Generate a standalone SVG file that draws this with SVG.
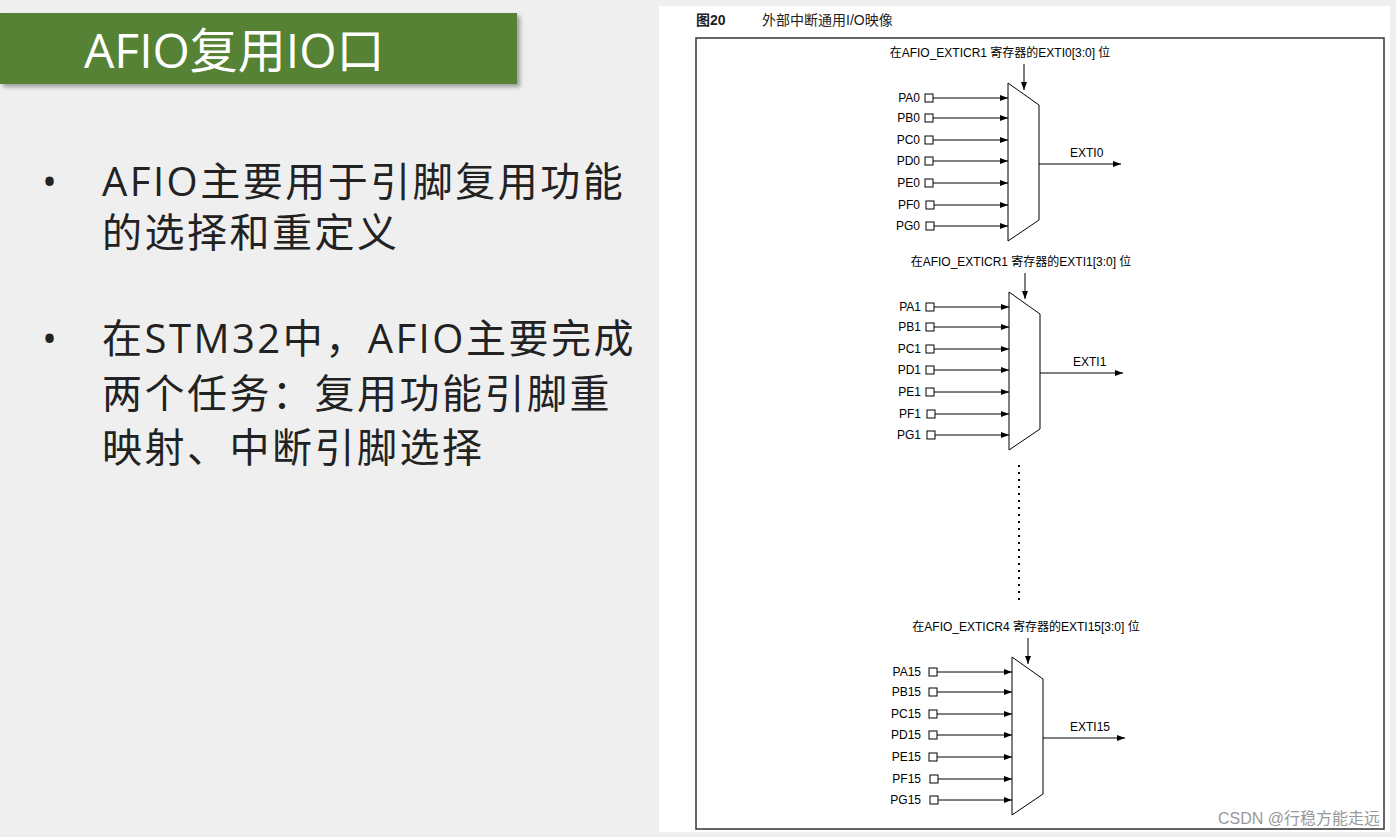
<svg xmlns="http://www.w3.org/2000/svg" width="1396" height="837" viewBox="0 0 1396 837">
<defs>
<marker id="ah" markerWidth="8" markerHeight="6" refX="8" refY="3" orient="auto" markerUnits="userSpaceOnUse"><path d="M0,0 L8,3 L0,6 Z" fill="#000"/></marker>
<filter id="sh"><feDropShadow dx="3" dy="3" stdDeviation="2" flood-opacity="0.35"/></filter>
</defs>
<style>
.big{font-family:"Open Sans","Noto Sans CJK SC",sans-serif;font-size:40px;letter-spacing:2.5px;fill:#222}
.lbl{font-family:"Liberation Sans","Noto Sans CJK SC",sans-serif;font-size:12px;fill:#000}
.ln{stroke:#000;stroke-width:1;fill:none}
.sq{fill:#fff;stroke:#000;stroke-width:1}
</style>
<rect width="1396" height="837" fill="#efefef"/>
<g id="title"><rect x="0" y="13" width="517" height="71" fill="#548235" filter="url(#sh)"/>
<text x="84" y="68" font-family="'Open Sans','Noto Sans CJK SC',sans-serif" font-size="48" fill="#fff">AFIO复用IO口</text></g>
<g id="bullets">
<text class="big" x="42" y="196">•</text>
<text class="big" x="102" y="196">AFIO主要用于引脚复用功能</text>
<text class="big" x="102" y="247">的选择和重定义</text>
<text class="big" x="42" y="353">•</text>
<text class="big" x="102" y="353">在STM32中，AFIO主要完成</text>
<text class="big" x="102" y="408">两个任务：复用功能引脚重</text>
<text class="big" x="102" y="462">映射、中断引脚选择</text>
</g>
<rect x="659" y="6" width="731" height="826" fill="#fff"/>
<text x="696" y="25" font-family="'Liberation Sans','Noto Sans CJK SC',sans-serif" font-size="14" font-weight="bold" fill="#222">图20</text>
<text x="762" y="25" font-family="'Liberation Sans','Noto Sans CJK SC',sans-serif" font-size="14" fill="#222">外部中断通用I/O映像</text>
<rect x="696" y="38" width="688" height="791" fill="none" stroke="#333" stroke-width="1.5"/>
<g id="mux0" transform="translate(0,0)">
<text class="lbl" x="1000" y="57" text-anchor="middle">在AFIO_EXTICR1 寄存器的EXTI0[3:0] 位</text>
<line class="ln" x1="1024" y1="64" x2="1024" y2="90" stroke-width="2" marker-end="url(#ah)"/>
<path class="ln" d="M1008,83 L1039,105 L1039,220 L1008,241 Z"/>
<g class="lbl" text-anchor="end">
<text x="920" y="102">PA0</text><text x="920" y="122">PB0</text><text x="920" y="144">PC0</text><text x="920" y="165">PD0</text><text x="920" y="187">PE0</text><text x="920" y="209">PF0</text><text x="920" y="230">PG0</text></g>
<text class="lbl" x="1070" y="157">EXTI0</text>
</g>
<g id="mux1" transform="translate(1,209)">
<text class="lbl" x="1020" y="57" text-anchor="middle">在AFIO_EXTICR1 寄存器的EXTI1[3:0] 位</text>
<line class="ln" x1="1024" y1="64" x2="1024" y2="90" stroke-width="2" marker-end="url(#ah)"/>
<path class="ln" d="M1008,83 L1039,105 L1039,220 L1008,241 Z"/>
<g class="lbl" text-anchor="end">
<text x="920" y="102">PA1</text><text x="920" y="122">PB1</text><text x="920" y="144">PC1</text><text x="920" y="165">PD1</text><text x="920" y="187">PE1</text><text x="920" y="209">PF1</text><text x="920" y="230">PG1</text></g>
<text class="lbl" x="1072" y="157">EXTI1</text>
</g>
<g id="mux15" transform="translate(4,574)">
<text class="lbl" x="1022" y="57" text-anchor="middle">在AFIO_EXTICR4 寄存器的EXTI15[3:0] 位</text>
<line class="ln" x1="1024" y1="64" x2="1024" y2="90" stroke-width="2" marker-end="url(#ah)"/>
<path class="ln" d="M1008,83 L1039,105 L1039,220 L1008,241 Z"/>
<g class="lbl" text-anchor="end">
<text x="917" y="102">PA15</text><text x="917" y="122">PB15</text><text x="917" y="144">PC15</text><text x="917" y="165">PD15</text><text x="917" y="187">PE15</text><text x="917" y="209">PF15</text><text x="917" y="230">PG15</text></g>
<text class="lbl" x="1066" y="157">EXTI15</text>
</g>
<g id="connectors">
<g transform="translate(0,0)">
<rect class="sq" x="925" y="94" width="8" height="8"/><rect class="sq" x="925" y="114" width="8" height="8"/><rect class="sq" x="925" y="136" width="8" height="8"/><rect class="sq" x="925" y="157" width="8" height="8"/><rect class="sq" x="925" y="179" width="8" height="8"/><rect class="sq" x="926" y="201" width="8" height="8"/><rect class="sq" x="926" y="222" width="8" height="8"/>
<path class="ln" marker-end="url(#ah)" d="M933,98H1008"/><path class="ln" marker-end="url(#ah)" d="M933,118H1008"/><path class="ln" marker-end="url(#ah)" d="M933,140H1008"/><path class="ln" marker-end="url(#ah)" d="M933,161H1008"/><path class="ln" marker-end="url(#ah)" d="M933,183H1008"/><path class="ln" marker-end="url(#ah)" d="M934,205H1008"/><path class="ln" marker-end="url(#ah)" d="M934,226H1008"/>
<path class="ln" marker-end="url(#ah)" d="M1039,164H1121"/></g>
<g transform="translate(1,209)">
<rect class="sq" x="925" y="94" width="8" height="8"/><rect class="sq" x="925" y="114" width="8" height="8"/><rect class="sq" x="925" y="136" width="8" height="8"/><rect class="sq" x="925" y="157" width="8" height="8"/><rect class="sq" x="925" y="179" width="8" height="8"/><rect class="sq" x="926" y="201" width="8" height="8"/><rect class="sq" x="926" y="222" width="8" height="8"/>
<path class="ln" marker-end="url(#ah)" d="M933,98H1008"/><path class="ln" marker-end="url(#ah)" d="M933,118H1008"/><path class="ln" marker-end="url(#ah)" d="M933,140H1008"/><path class="ln" marker-end="url(#ah)" d="M933,161H1008"/><path class="ln" marker-end="url(#ah)" d="M933,183H1008"/><path class="ln" marker-end="url(#ah)" d="M934,205H1008"/><path class="ln" marker-end="url(#ah)" d="M934,226H1008"/>
<path class="ln" marker-end="url(#ah)" d="M1039,164H1122"/></g>
<g transform="translate(4,574)">
<rect class="sq" x="925" y="94" width="8" height="8"/><rect class="sq" x="925" y="114" width="8" height="8"/><rect class="sq" x="925" y="136" width="8" height="8"/><rect class="sq" x="925" y="157" width="8" height="8"/><rect class="sq" x="925" y="179" width="8" height="8"/><rect class="sq" x="926" y="201" width="8" height="8"/><rect class="sq" x="926" y="222" width="8" height="8"/>
<path class="ln" marker-end="url(#ah)" d="M933,98H1008"/><path class="ln" marker-end="url(#ah)" d="M933,118H1008"/><path class="ln" marker-end="url(#ah)" d="M933,140H1008"/><path class="ln" marker-end="url(#ah)" d="M933,161H1008"/><path class="ln" marker-end="url(#ah)" d="M933,183H1008"/><path class="ln" marker-end="url(#ah)" d="M934,205H1008"/><path class="ln" marker-end="url(#ah)" d="M934,226H1008"/>
<path class="ln" marker-end="url(#ah)" d="M1039,164H1121"/></g>
<line x1="1019" y1="465" x2="1019" y2="605" stroke="#000" stroke-width="2" stroke-dasharray="2,5"/>
</g>
<text x="1380" y="824" text-anchor="end" font-family="'Liberation Sans','Noto Sans CJK SC',sans-serif" font-size="16" fill="#999">CSDN @行稳方能走远</text>
</svg>
